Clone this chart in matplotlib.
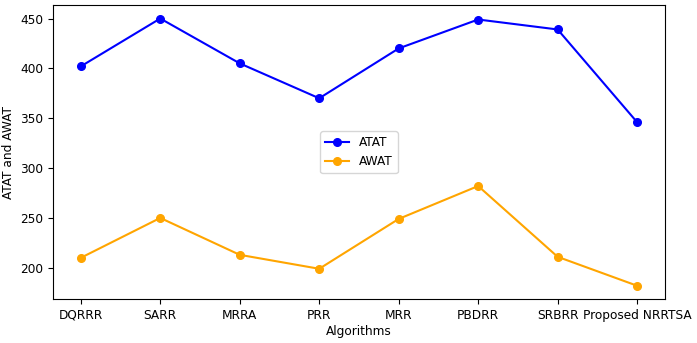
import matplotlib.pyplot as plt

# Data
algoritma = ['DQRRR', 'SARR', 'MRRA', 'PRR', 'MRR', 'PBDRR', 'SRBRR', 'Proposed NRRTSA']
atat = [402, 450, 405, 370, 420, 449, 439, 346]
awat = [210, 250, 213, 199, 249, 282, 211, 182]

plt.rcParams['font.size'] = 8.7

fig, ax = plt.subplots(figsize=(6.97, 3.43), dpi=100)
fig.subplots_adjust(left=0.076, right=0.954, top=0.985, bottom=0.128)

ax.plot(algoritma, atat, marker='o', color='blue', label='ATAT', markersize=5.5)
ax.plot(algoritma, awat, marker='o', color='orange', label='AWAT', markersize=5.5)

ax.set_xlabel('Algorithms', labelpad=2)
ax.set_ylabel('ATAT and AWAT')
ax.legend(loc='center')

fig.savefig('out.png')
